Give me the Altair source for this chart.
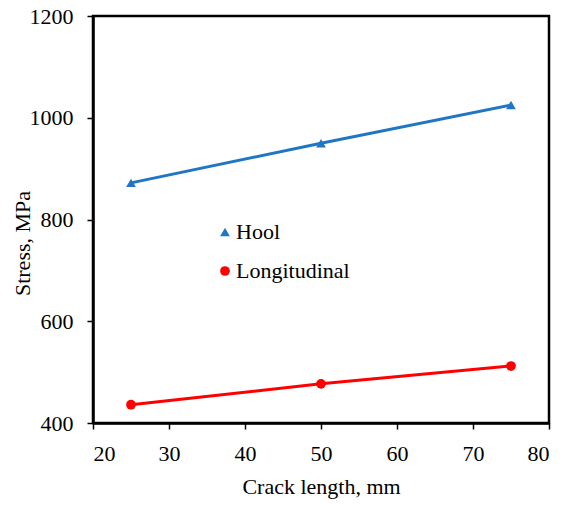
import altair as alt
import pandas as pd

crack = [25, 50, 75]
hoop = [872, 950, 1025]
longit = [436, 477, 512]
series_names = ["Hool", "Longitudinal"]
colors = ["#1F77C4", "#FF0000"]
shapes = ["triangle-up", "circle"]

rows = []
for x, h, l in zip(crack, hoop, longit):
    rows.append({"x": x, "y": h, "s": series_names[0]})
    rows.append({"x": x, "y": l, "s": series_names[1]})
df = pd.DataFrame(rows)

FONT = "Liberation Serif"
xs = alt.Scale(domain=[20, 80], nice=False)
ys = alt.Scale(domain=[400, 1200], nice=False)
cs = alt.Scale(domain=series_names, range=colors)
ss = alt.Scale(domain=series_names, range=shapes)

xaxis = alt.Axis(values=[20, 30, 40, 50, 60, 70, 80], title="Crack length, mm", grid=False,
                 format="d", labelPadding=14, titlePadding=12)
yaxis = alt.Axis(values=[400, 600, 800, 1000, 1200], title="Stress, MPa", grid=False,
                 format="d", labelPadding=14, titleX=-71, titleY=227, titleAngle=270,
                 titleAlign="center", titleBaseline="middle")

leg = alt.Legend(orient="none", legendX=121, legendY=205, title=None, rowPadding=17,
                 symbolSize=95, labelFont=FONT, labelFontSize=22, labelColor="black",
                 symbolStrokeWidth=0, labelOffset=0)

base = alt.Chart(df)
lines = base.mark_line(strokeWidth=3).encode(
    x=alt.X("x:Q", scale=xs, axis=xaxis),
    y=alt.Y("y:Q", scale=ys, axis=yaxis),
    color=alt.Color("s:N", scale=cs, title=None, legend=leg),
    detail="s:N",
)
pts = base.mark_point(filled=True, opacity=1, size=95).encode(
    x=alt.X("x:Q", scale=xs),
    y=alt.Y("y:Q", scale=ys),
    color=alt.Color("s:N", scale=cs, title=None, legend=leg),
    shape=alt.Shape("s:N", scale=ss, title=None, legend=leg),
)

chart = alt.layer(lines, pts).properties(
    width=456, height=407,
    autosize=alt.AutoSizeParams(type="none"),
    padding={"left": 93, "top": 16, "right": 14, "bottom": 83},
).configure_view(
    stroke="black", strokeWidth=2.5
).configure_axis(
    domainColor="black", domainWidth=2.5, tickColor="black", tickWidth=1.5, tickSize=6,
    labelFont=FONT, titleFont=FONT, labelFontSize=22, titleFontSize=22,
    labelColor="black", titleColor="black", titleFontWeight="normal",
)

chart.save("out.html", embed_options={"renderer": "svg", "actions": False})
